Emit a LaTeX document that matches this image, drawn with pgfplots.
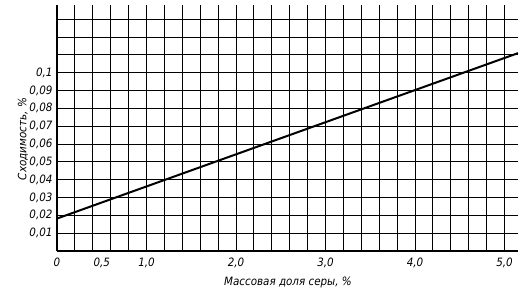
\documentclass[border=0pt]{standalone}
\usepackage{fontspec}
\setmainfont{DejaVu Sans Condensed}
\usepackage{pgfplots}
\pgfplotsset{compat=1.18}
\begin{document}
\begin{tikzpicture}
\path[use as bounding box] (-57pt,-42pt) rectangle (470pt,251pt);
\begin{axis}[
  scale only axis, width=461pt, height=246pt,
  xmin=0, xmax=5.15, ymin=0, ymax=0.138,
  axis x line*=bottom, axis y line*=left,
  axis line style={-, line width=1.4pt},
  xtick={0,0.5,1,2,3,4,5},
  xticklabels={0,{0,5},{1,0},{2,0},{3,0},{4,0},{5,0}},
  ytick={0.01,0.02,0.03,0.04,0.05,0.06,0.07,0.08,0.09,0.1},
  yticklabels={{0,01},{0,02},{0,03},{0,04},{0,05},{0,06},{0,07},{0,08},{0,09},{0,1}},
  minor xtick={0.2,0.4,0.6,0.8,1.0,1.2,1.4,1.6,1.8,2.0,2.2,2.4,2.6,2.8,3.0,3.2,3.4,3.6,3.8,4.0,4.2,4.4,4.6,4.8,5.0},
  minor ytick={0.01,0.02,0.03,0.04,0.05,0.06,0.07,0.08,0.09,0.1,0.11,0.12,0.13},
  major tick length=0pt, minor tick length=0pt,
  grid=minor,
  minor grid style={black, line width=1pt},
  ticklabel style={font=\itshape\fontsize{11.5}{12}\selectfont},
  xticklabel style={yshift=-3pt},
  yticklabel style={xshift=-1pt},
  xlabel={Массовая доля серы, \%},
  ylabel={Сходимость, \%},
  label style={font=\itshape\fontsize{11.5}{12}\selectfont},
  xlabel style={at={(axis description cs:0.501,-0.126)}, anchor=center},
  ylabel style={at={(axis description cs:-0.074,0.455)}, anchor=center},
]
\addplot[black, line width=2pt] coordinates {(0,0.0182) (5.15,0.111)};
\end{axis}
\end{tikzpicture}
\end{document}
